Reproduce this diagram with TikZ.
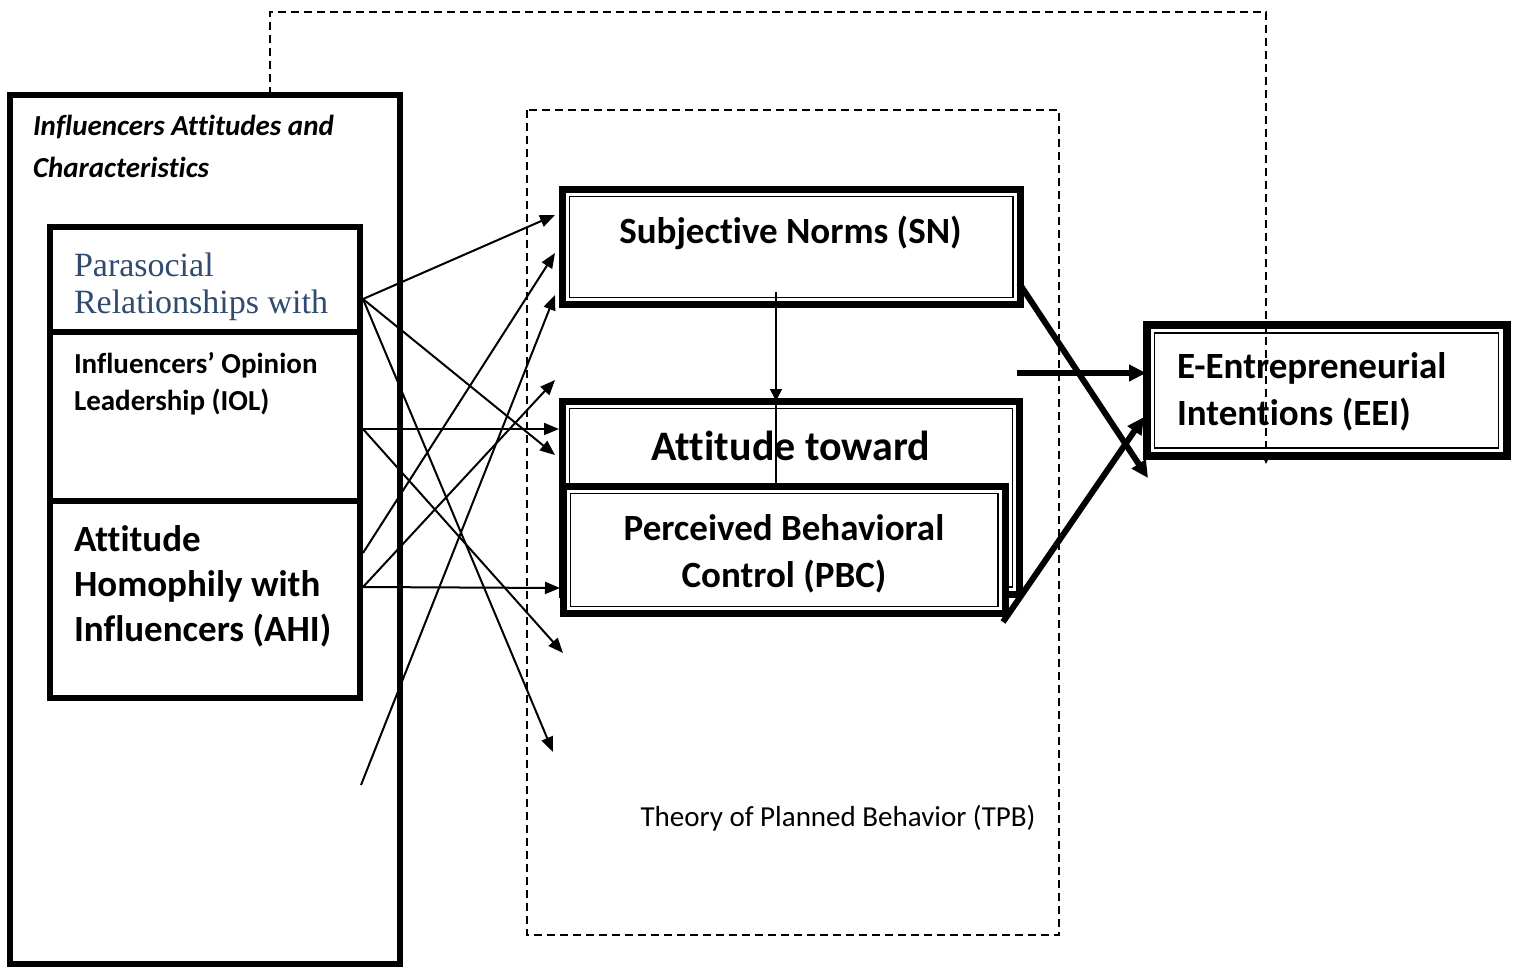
\documentclass[tikz,border=0pt]{standalone}
\usepackage{fontspec}
\setmainfont{Carlito}[Ligatures=NoCommon]
\newfontfamily\pserif{Liberation Serif}
\usetikzlibrary{arrows.meta,calc}
\definecolor{prinavy}{HTML}{2F4B6E}
\begin{document}
\begin{tikzpicture}[x=1pt,y=-1pt,
  frame/.style={draw, line width=6pt, fill=white, inner sep=0pt, outer sep=0pt},
  dblbox/.style={draw, line width=7pt, fill=white, inner sep=0pt, outer sep=0pt},
  innerline/.style={line width=1.5pt},
  thinlink/.style={line width=2pt, -{Triangle[length=15pt,width=12pt]}},
  thicklink/.style={line width=6pt, -{Triangle[length=17pt,width=16pt]}},
  dashline/.style={line width=2pt, dash pattern=on 8pt off 5pt},
  lbl/.style={inner sep=0pt, outer sep=0pt},
  bigbold/.style={font=\fontsize{37}{46}\selectfont\bfseries},
]
\useasboundingbox (0,0) rectangle (1518,967);

% theory of planned behaviour frame
\draw[dashline] (527,110) rectangle (1059,935);
\node[lbl, anchor=base, font=\fontsize{29}{36}\selectfont] (tpb) at (838,826) {Theory of Planned Behavior (TPB)};

% influencer block (multi-line labels are anchored at their last baseline)
\node[frame, minimum width=390pt, minimum height=869pt] (outer) at (205,529.5) {};
\node[lbl, anchor=base west, align=left, font=\fontsize{29}{42}\selectfont\bfseries\itshape] (title) at (33,177) {Influencers Attitudes and\\Characteristics};

\node[frame, minimum width=310pt, minimum height=105pt] (pri) at (205,279.5) {};
\node[lbl, anchor=base west, align=left, text=prinavy, font=\pserif\fontsize{34}{37}\selectfont] (pritext) at (74,313) {Parasocial\\Relationships with};

\node[frame, minimum width=310pt, minimum height=169pt] (iol) at (205,416.5) {};
\node[lbl, anchor=base west, align=left, font=\fontsize{29}{37}\selectfont\bfseries] (ioltext) at (74,410) {Influencers’ Opinion\\Leadership (IOL)};

\node[frame, minimum width=310pt, minimum height=197pt] (ahi) at (205,599.5) {};
\node[lbl, anchor=base west, align=left, font=\fontsize{37}{45}\selectfont\bfseries] (ahitext) at (74,641) {Attitude\\Homophily with\\Influencers (AHI)};

% TPB constructs
\node[dblbox, minimum width=457.5pt, minimum height=115pt] (sn) at (791.25,247) {};
\draw[innerline] ($(sn.north west)+(7,7)$) rectangle ($(sn.south east)+(-7,-7)$);
\node[lbl, anchor=base, bigbold] (sntext) at (790.5,243) {Subjective Norms (SN)};

\node[dblbox, minimum width=457pt, minimum height=192.5pt] (att) at (791,497.75) {};
\draw[innerline] ($(att.north west)+(7,7)$) rectangle ($(att.south east)+(-7,-7)$);
\node[lbl, anchor=base, font=\fontsize{42}{50}\selectfont\bfseries] (atttext) at (791,460) {Attitude toward};

\coordinate (snDown) at (776,292);
\coordinate (attTop) at (776,401);
\coordinate (pbcTop) at (776,483);
\draw[line width=1.5pt, -{Triangle[length=12pt,width=12pt]}] (snDown) -- (attTop);
\draw[line width=1.5pt] (attTop) -- (pbcTop);

\node[dblbox, minimum width=441.5pt, minimum height=127pt] (pbc) at (784.25,550) {};
\draw[innerline] ($(pbc.north west)+(7,7)$) rectangle ($(pbc.south east)+(-7,-7)$);
\node[lbl, anchor=base, align=center, font=\fontsize{37}{47}\selectfont\bfseries] (pbctext) at (784,587) {Perceived Behavioral\\Control (PBC)};

% outcome
\node[dblbox, line width=8pt, minimum width=360pt, minimum height=131pt] (eei) at (1326.5,390.5) {};
\draw[innerline] ($(eei.north west)+(8,8)$) rectangle ($(eei.south east)+(-8,-8)$);
\node[lbl, anchor=base west, align=left, font=\fontsize{37}{47}\selectfont\bfseries] (eeitext) at (1177,425) {E-Entrepreneurial\\Intentions (EEI)};

% sources on the influencer boxes
\coordinate (priOut) at (363,299);
\coordinate (iolOut) at (363,429);
\coordinate (ahiUp) at (363,553);
\coordinate (ahiLow) at (363,587);
\coordinate (loose) at (361,785);
% arrow ends near the TPB boxes
\coordinate (e1) at (555,215);
\coordinate (e2) at (555,253);
\coordinate (e3) at (555,295);
\coordinate (e4) at (555,380);
\coordinate (e5) at (559,429);
\coordinate (e6) at (555,455);
\coordinate (e7) at (560,588);
\coordinate (e8) at (563,653);
\coordinate (e9) at (553,752);

\draw[thinlink] (priOut) -- (e1);
\draw[thinlink] (priOut) -- (e6);
\draw[thinlink] (priOut) -- (e9);
\draw[thinlink] (iolOut) -- (e5);
\draw[thinlink] (iolOut) -- (e8);
\draw[thinlink] (ahiUp) -- (e2);
\draw[thinlink] (ahiLow) -- (e4);
\draw[thinlink] (ahiLow) -- (e7);
\draw[thinlink] (loose) -- (e3);

% paths into the intention box
\coordinate (snOut) at (1019,283);
\coordinate (midOut) at (1017,373);
\coordinate (pbcOut) at (1003,622);
\coordinate (eeiLow) at (1148,478);
\coordinate (eeiMid) at (1146,373);
\coordinate (eeiSide) at (1144,417);
\draw[thicklink] (snOut) -- (eeiLow);
\draw[thicklink] (midOut) -- (eeiMid);
\draw[thicklink] (pbcOut) -- (eeiSide);

% direct influence path over the top
\coordinate (topA) at (270,12);
\coordinate (topB) at (1266,12);
\coordinate (dashEnd) at (1266,464);
\draw[dashline, -{Triangle[length=9pt,width=8pt]}] (outer.north -| topA) -- (topA) -- (topB) -- (dashEnd);
\end{tikzpicture}
\end{document}
